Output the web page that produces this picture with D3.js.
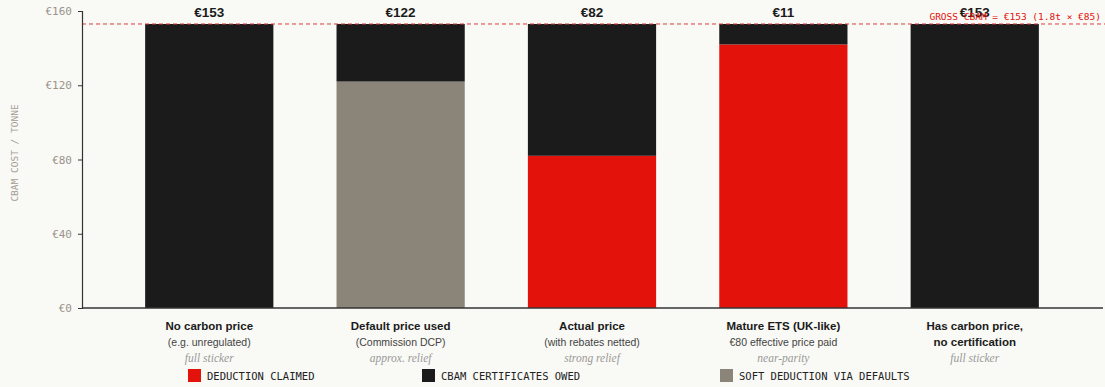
<!DOCTYPE html>
<html>
<head>
<meta charset="utf-8">
<script src="https://cdn.jsdelivr.net/npm/d3@7"></script>
<style>
html,body{margin:0;padding:0;background:#f9f9f5;}
svg{display:block;}
</style>
</head>
<body>
<svg id="chart" width="1105" height="387"></svg>
<script>
const categories = ["No carbon price","Default price used","Actual price","Mature ETS (UK-like)","Has carbon price, no certification"];
const titleLines = [["No carbon price"],["Default price used"],["Actual price"],["Mature ETS (UK-like)"],["Has carbon price,","no certification"]];
const subLines = ["(e.g. unregulated)","(Commission DCP)","(with rebates netted)","€80 effective price paid",""];
const noteLines = ["full sticker","approx. relief","strong relief","near-parity","full sticker"];
const deduction = [0,0,82,142,0];
const softDeduction = [0,122,0,0,0];
const owed = [153,31,71,11,153];
const topLabels = ["€153","€122","€82","€11","€153"];
const yTicks = [0,40,80,120,160];
const gross = 153;
const legendLabels = ["DEDUCTION CLAIMED","CBAM CERTIFICATES OWED","SOFT DEDUCTION VIA DEFAULTS"];

const colors = {deduction:"#e3120b", owed:"#1b1b1b", soft:"#8b8479"};
const mono = "'DejaVu Sans Mono', monospace";
const sans = "'Liberation Sans', Arial, sans-serif";
const serif = "'Liberation Serif', 'Times New Roman', serif";

const svg = d3.select("#chart");
const x = d3.scaleBand().domain(categories).range([82,1102]).padding(0.33);
const y = d3.scaleLinear().domain([0,160]).range([308,11]);

const stacks = categories.map((c,i)=>{
  const segs=[];
  let base=0;
  if(softDeduction[i]>0){segs.push({c,y0:base,y1:base+softDeduction[i],color:colors.soft});base+=softDeduction[i];}
  if(deduction[i]>0){segs.push({c,y0:base,y1:base+deduction[i],color:colors.deduction});base+=deduction[i];}
  segs.push({c,y0:base,y1:base+owed[i],color:colors.owed});
  return segs;
}).flat();

svg.append("g").selectAll("rect").data(stacks).join("rect")
  .attr("x",d=>x(d.c)).attr("width",x.bandwidth())
  .attr("y",d=>y(d.y1)).attr("height",d=>y(d.y0)-y(d.y1))
  .attr("fill",d=>d.color);

svg.append("line").attr("x1",82).attr("x2",1105).attr("y1",y(gross)).attr("y2",y(gross))
  .attr("stroke","#dd3c3c").attr("stroke-width",1).attr("stroke-dasharray","4,3");

svg.append("g").selectAll("text").data(categories).join("text")
  .attr("x",d=>x(d)+x.bandwidth()/2)
  .attr("y",(d,i)=>y(deduction[i]+softDeduction[i]+owed[i])-7)
  .attr("text-anchor","middle").attr("font-family",sans).attr("font-weight","bold")
  .attr("font-size",13.5).attr("fill","#1b1b1b").text((d,i)=>topLabels[i]);

svg.append("text").attr("x",1101).attr("y",y(gross)-4).attr("text-anchor","end")
  .attr("font-family",mono).attr("font-size",9.5).attr("fill","#e3120b")
  .text("GROSS CBAM = €153 (1.8t × €85)");

const yAxis = svg.append("g").attr("transform","translate(82,0)")
  .call(d3.axisLeft(y).tickValues(yTicks).tickFormat(d=>"€"+d).tickSize(4).tickPadding(6));
yAxis.select(".domain").attr("stroke","#333").attr("stroke-width",1.2);
yAxis.selectAll(".tick line").attr("stroke","#333");
yAxis.selectAll("text").attr("font-family",mono).attr("font-size",11).attr("fill","#9a938b");

svg.append("text").attr("transform","translate(18,153) rotate(-90)")
  .attr("text-anchor","middle").attr("font-family",mono).attr("font-size",9.5)
  .attr("fill","#a39c94").text("CBAM COST / TONNE");

svg.append("line").attr("x1",82).attr("x2",1103).attr("y1",y(0)).attr("y2",y(0))
  .attr("stroke","#333").attr("stroke-width",1.5);

const cat = svg.append("g").selectAll("g").data(categories).join("g")
  .attr("transform",d=>`translate(${x(d)+x.bandwidth()/2},0)`);
cat.each(function(d,i){
  const g=d3.select(this);
  let yy=330;
  titleLines[i].forEach(t=>{
    g.append("text").attr("y",yy).attr("text-anchor","middle").attr("font-family",sans)
      .attr("font-weight","bold").attr("font-size",11.5).attr("fill","#1b1b1b").text(t);
    yy+=16;
  });
  if(subLines[i]){
    g.append("text").attr("y",yy).attr("text-anchor","middle").attr("font-family",sans)
      .attr("font-size",10.5).attr("fill","#444").text(subLines[i]);
    yy+=16;
  }
  g.append("text").attr("y",yy).attr("text-anchor","middle").attr("font-family",serif)
    .attr("font-style","italic").attr("font-size",11.5).attr("fill","#999").text(noteLines[i]);
});

const legendX=[188,422,720];
const legendC=[colors.deduction,colors.owed,colors.soft];
const lg=svg.append("g").selectAll("g").data(legendLabels).join("g")
  .attr("transform",(d,i)=>`translate(${legendX[i]},369)`);
lg.append("rect").attr("width",13).attr("height",13).attr("fill",(d,i)=>legendC[i]);
lg.append("text").attr("x",19).attr("y",11).attr("font-family",mono).attr("font-size",10.5)
  .attr("fill","#222").text(d=>d);
</script>
</body>
</html>
